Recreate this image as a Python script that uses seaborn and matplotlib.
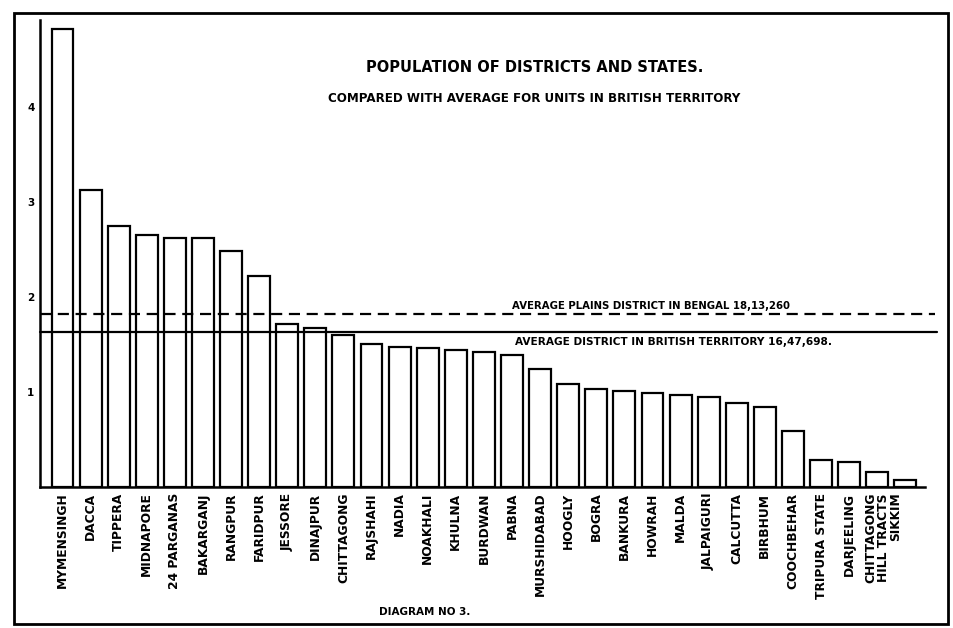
import matplotlib
matplotlib.use("Agg")
import matplotlib.pyplot as plt
import matplotlib.transforms as mtransforms
from matplotlib.patches import Rectangle
import seaborn as sns

districts = ["MYMENSINGH", "DACCA", "TIPPERA", "MIDNAPORE", "24 PARGANAS",
             "BAKARGANJ", "RANGPUR", "FARIDPUR", "JESSORE", "DINAJPUR",
             "CHITTAGONG", "RAJSHAHI", "NADIA", "NOAKHALI", "KHULNA",
             "BURDWAN", "PABNA", "MURSHIDABAD", "HOOGLY", "BOGRA",
             "BANKURA", "HOWRAH", "MALDA", "JALPAIGURI", "CALCUTTA",
             "BIRBHUM", "COOCHBEHAR", "TRIPURA STATE", "DARJEELING",
             "CHITTAGONG\nHILL TRACTS", "SIKKIM"]
# population in millions
population = [4.83, 3.13, 2.75, 2.66, 2.62,
              2.62, 2.49, 2.22, 1.72, 1.68,
              1.60, 1.51, 1.48, 1.46, 1.44,
              1.42, 1.39, 1.24, 1.09, 1.03,
              1.01, 0.99, 0.97, 0.95, 0.89,
              0.84, 0.59, 0.28, 0.26, 0.16, 0.07]
avg_plains_bengal = 1.82
avg_british_territory = 1.63
y_ticks = [1, 2, 3, 4]
y_tick_labels = ["1", "2", "3", "4"]

sns.set_theme(style="white")
plt.rcParams['font.family'] = ['DejaVu Sans']
plt.rcParams['text.color'] = 'black'
plt.rcParams['xtick.color'] = 'black'
plt.rcParams['ytick.color'] = 'black'
plt.rcParams['xtick.labelcolor'] = 'black'
plt.rcParams['ytick.labelcolor'] = 'black'

fig = plt.figure(figsize=(9.54, 6.28), dpi=100)
ax = fig.add_axes([40/954, 1-487/628, 885/954, 467/628])

sns.barplot(x=districts, y=population, color="white", edgecolor="black",
            linewidth=1.6, width=0.78, ax=ax, saturation=1)
for p in ax.patches:
    p.set_facecolor("white")

ax.set_xlim(-0.8, 30.7)
ax.set_ylim(0, 4.92)

ax.axhline(avg_plains_bengal, xmin=0, xmax=1.011, color="black", lw=1.6,
           ls=(0, (5, 3)), clip_on=False)
ax.axhline(avg_british_territory, xmin=0, xmax=1.013, color="black", lw=1.6,
           clip_on=False)

ax.text(16.0, avg_plains_bengal + 0.09, "AVERAGE PLAINS DISTRICT IN BENGAL 18,13,260",
        fontsize=7.3, fontweight="bold", ha="left", va="center", color="black")
ax.text(16.1, avg_british_territory - 0.1, "AVERAGE DISTRICT IN BRITISH TERRITORY 16,47,698.",
        fontsize=7.6, fontweight="bold", ha="left", va="center", color="black")

ax.set_yticks(y_ticks)
ax.set_yticklabels(y_tick_labels, fontsize=7.5, fontweight="bold", color="black")
ax.tick_params(axis="y", length=0, pad=4)
ax.tick_params(axis="x", length=0, pad=4)
ax.set_xticks(range(len(districts)))
ax.set_xticklabels(districts, rotation=90, fontsize=8.8, fontweight="bold",
                   va="top", ha="center", linespacing=0.95, color="black")
# nudge the last label toward the two-bar group label position
offset = mtransforms.ScaledTranslation(-10/100, 0, fig.dpi_scale_trans)
lbl = ax.get_xticklabels()[-1]
lbl.set_transform(lbl.get_transform() + offset)

for s in ["top", "right"]:
    ax.spines[s].set_visible(False)
for s in ["left", "bottom"]:
    ax.spines[s].set_linewidth(1.8)
    ax.spines[s].set_color("black")
ax.set_xlabel("")
ax.set_ylabel("")

fig.text(535/954, 1-68/628, "POPULATION OF DISTRICTS AND STATES.",
         fontsize=10.5, fontweight="bold", ha="center", va="center", color="black")
fig.text(534/954, 1-98/628, "COMPARED WITH AVERAGE FOR UNITS IN BRITISH TERRITORY",
         fontsize=8.6, fontweight="bold", ha="center", va="center", color="black")
fig.text(425/954, 1-612/628, "DIAGRAM NO 3.", fontsize=7.5, fontweight="bold",
         ha="center", va="center", color="black")

fig.patches.append(Rectangle((14/954, 1-624/628), 934/954, 611/628,
                             transform=fig.transFigure, fill=False,
                             edgecolor="black", lw=2))

fig.savefig("out.png", dpi=100, facecolor="white")
